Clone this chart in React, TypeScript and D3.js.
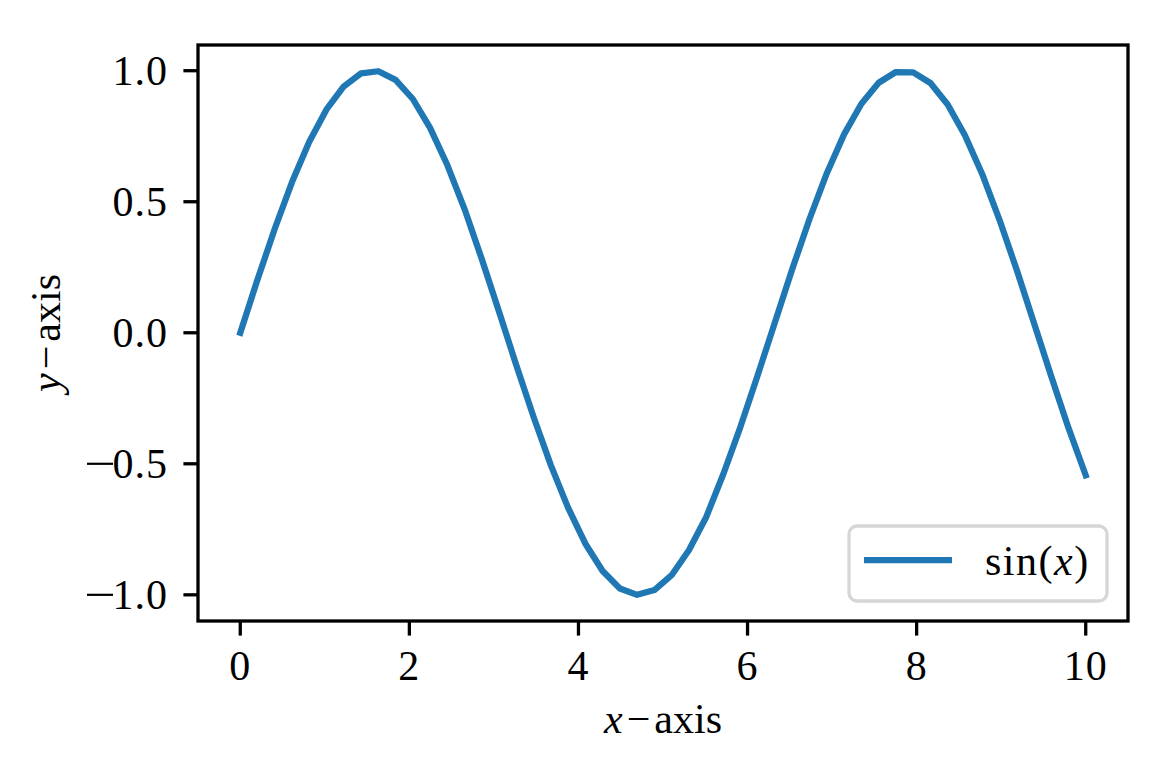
import React from "react";
import * as d3 from "d3";

const xValues = [
  0, 0.204, 0.408, 0.612, 0.816, 1.02, 1.224, 1.429, 1.633, 1.837,
  2.041, 2.245, 2.449, 2.653, 2.857, 3.061, 3.265, 3.469, 3.673, 3.878,
  4.082, 4.286, 4.49, 4.694, 4.898, 5.102, 5.306, 5.51, 5.714, 5.918,
  6.122, 6.327, 6.531, 6.735, 6.939, 7.143, 7.347, 7.551, 7.755, 7.959,
  8.163, 8.367, 8.571, 8.776, 8.98, 9.184, 9.388, 9.592, 9.796, 10,
];
const yValues = [
  0, 0.203, 0.397, 0.575, 0.729, 0.852, 0.94, 0.99, 0.998, 0.965,
  0.892, 0.782, 0.64, 0.472, 0.281, 0.08, -0.124, -0.321, -0.505, -0.668,
  -0.805, -0.909, -0.976, -1.0, -0.982, -0.925, -0.83, -0.704, -0.539, -0.357,
  -0.16, 0.043, 0.245, 0.436, 0.61, 0.758, 0.874, 0.954, 0.995, 0.994,
  0.953, 0.871, 0.754, 0.605, 0.431, 0.24, 0.037, -0.166, -0.363, -0.544,
];
const xTicks = [0, 2, 4, 6, 8, 10];
const yTicks = [-1.0, -0.5, 0.0, 0.5, 1.0];
const legendLabel = "sin";

const FONT = "'Liberation Serif', 'DejaVu Serif', serif";

export default function App() {
  const W = 1173, H = 772;
  const left = 198, right = 1128, top = 45, bottom = 621;
  const x = d3.scaleLinear().domain([-0.5, 10.5]).range([left, right]);
  const y = d3.scaleLinear().domain([-1.0999, 1.0981]).range([bottom, top]);
  const pts = xValues.map((v, i) => [v, yValues[i]] as [number, number]);
  const line = d3.line<[number, number]>().x(d => x(d[0])).y(d => y(d[1]));
  const tickLen = 14.6;
  const fs = 42;
  return (
    <svg width={W} height={H} style={{ display: "block", position: "absolute", left: 0, top: 0 }}
      fontFamily={FONT}>
      <rect x={0} y={0} width={W} height={H} fill="white" />
      <path d={line(pts) || ""} fill="none" stroke="#1f77b4" strokeWidth={6.25} strokeLinejoin="round" strokeLinecap="square" />
      <rect x={left} y={top} width={right - left} height={bottom - top} fill="none" stroke="black" strokeWidth={3.3} />
      {xTicks.map(t => (
        <g key={"x" + t}>
          <line x1={x(t)} x2={x(t)} y1={bottom} y2={bottom + tickLen} stroke="black" strokeWidth={3.3} />
          <text x={x(t)} y={680} fontSize={fs} textAnchor="middle" letterSpacing={1}>{t}</text>
        </g>
      ))}
      {yTicks.map(t => (
        <g key={"y" + t}>
          <line x1={left - tickLen} x2={left} y1={y(t)} y2={y(t)} stroke="black" strokeWidth={3.3} />
          <text x={168} y={y(t) + 14} fontSize={fs} textAnchor="end" letterSpacing={1}>
            {Math.abs(t).toFixed(1)}
          </text>
          {t < 0 && (
            <line x1={87} x2={113} y1={y(t)} y2={y(t)} stroke="black" strokeWidth={2.2} />
          )}
        </g>
      ))}
      <text x={(left + right) / 2} y={733} fontSize={fs} textAnchor="middle">
        <tspan fontStyle="italic">x</tspan><tspan dx={4}>{"\u2212"}</tspan><tspan dx={4}>axis</tspan>
      </text>
      <text transform={`translate(60,${(top + bottom) / 2}) rotate(-90)`} fontSize={fs} textAnchor="middle">
        <tspan fontStyle="italic">y</tspan><tspan dx={4}>{"\u2212"}</tspan><tspan dx={4}>axis</tspan>
      </text>
      <rect x={849} y={526} width={258} height={75} rx={8} fill="white" fillOpacity={0.8} stroke="#d6d6d6" strokeWidth={3.3} />
      <line x1={864} x2={952} y1={560} y2={560} stroke="#1f77b4" strokeWidth={6.25} />
      <text x={985} y={575} fontSize={fs} letterSpacing={1.5}>
        {legendLabel}(<tspan fontStyle="italic">x</tspan>)
      </text>
    </svg>
  );
}
